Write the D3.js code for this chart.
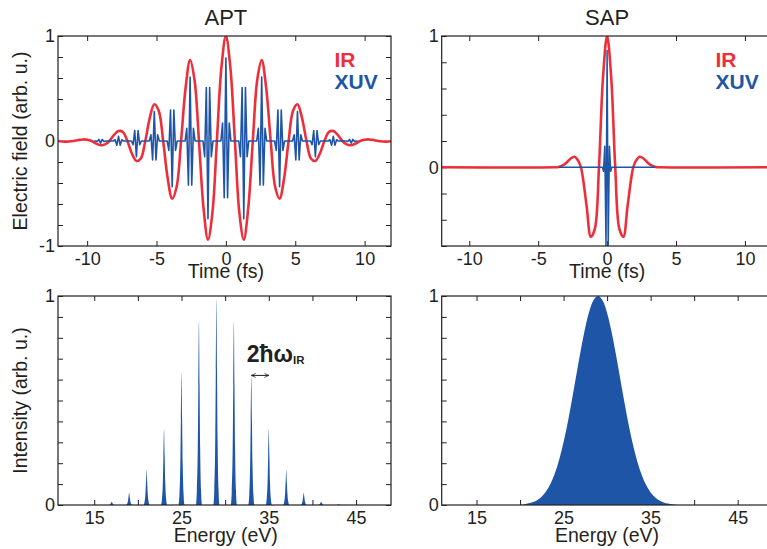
<!DOCTYPE html>
<html><head><meta charset="utf-8">
<script src="https://cdn.jsdelivr.net/npm/d3@7"></script>
<style>
html,body{margin:0;padding:0;background:#fff;}
svg{display:block;}
</style></head><body>
<svg id="chart" width="767" height="549"></svg>
<script>
// ---------------- DATA ----------------
const panelTitles = ["APT", "SAP"];
const legendLabels = ["IR", "XUV"];
const timeTicks = [-10, -5, 0, 5, 10];
const timeTickLabels = [-10, -5, 0, 5, 10];
const fieldTicksApt = [-1, -0.8, -0.6, -0.4, -0.2, 0, 0.2, 0.4, 0.6, 0.8, 1];
const fieldLabelsApt = [-1, 0, 1];
const fieldTicksSap = [-0.6, -0.4, -0.2, 0, 0.2, 0.4, 0.6, 0.8, 1];
const fieldLabelsSap = [0, 1];
const energyTicks = [15, 20, 25, 30, 35, 40, 45];
const energyTickLabels = [15, 25, 35, 45];
const intensityTicks = [0, 0.1, 0.2, 0.3, 0.4, 0.5, 0.6, 0.7, 0.8, 0.9, 1];
const intensityLabels = [0, 1];

// APT: IR field (fs, arb. u.)
const irAptTime = [-12.1, -11.61, -11.29, -10.97, -10.64, -10.32, -10.00, -9.68, -9.35, -9.03, -8.71, -8.39, -8.06, -7.74, -7.42, -7.10, -6.77, -6.45, -6.13, -5.81, -5.48, -5.16, -4.84, -4.52, -4.19, -3.87, -3.55, -3.23, -2.90, -2.58, -2.26, -1.94, -1.61, -1.29, -0.97, -0.65, -0.32, 0, 0.32, 0.65, 0.97, 1.29, 1.61, 1.94, 2.26, 2.58, 2.90, 3.23, 3.55, 3.87, 4.19, 4.52, 4.84, 5.16, 5.48, 5.81, 6.13, 6.45, 6.77, 7.10, 7.42, 7.74, 8.06, 8.39, 8.71, 9.03, 9.35, 9.68, 10.00, 10.32, 10.64, 10.97, 11.29, 11.61, 12.1];
const irAptValue = [0, -0.006, -0.005, 0, 0.009, 0.015, 0.012, 0, -0.025, -0.04, -0.032, 0, 0.058, 0.095, 0.085, 0, -0.121, -0.19, -0.167, 0, 0.223, 0.35, 0.288, 0, -0.360, -0.55, -0.436, 0, 0.511, 0.77, 0.581, 0, -0.640, -0.94, -0.682, 0, 0.704, 1, 0.704, 0, -0.682, -0.94, -0.640, 0, 0.581, 0.77, 0.511, 0, -0.436, -0.55, -0.360, 0, 0.288, 0.35, 0.223, 0, -0.167, -0.19, -0.121, 0, 0.085, 0.095, 0.058, 0, -0.032, -0.04, -0.025, 0, 0.012, 0.015, 0.009, 0, -0.005, -0.006, 0];

// APT: XUV attosecond bursts (one per IR half cycle)
const xuvAptSpan = [-9.5, 9.5];
const burstTimes = [-9.03, -7.74, -6.45, -5.16, -3.87, -2.58, -1.29, 0, 1.29, 2.58, 3.87, 5.16, 6.45, 7.74, 9.03];
const burstCenter = [-0.02, 0.045, -0.15, 0.28, -0.435, 0.61, -0.74, 0.79, -0.74, 0.61, -0.435, 0.28, -0.15, 0.045, -0.02];
const burstSide1 = [0.015, -0.04, 0.10, -0.18, 0.295, -0.42, 0.51, -0.54, 0.51, -0.42, 0.295, -0.18, 0.10, -0.04, 0.015];
const burstSide2 = [-0.005, 0.012, -0.035, 0.06, -0.09, 0.12, -0.15, 0.17, -0.15, 0.12, -0.09, 0.06, -0.035, 0.012, -0.005];
const burstOffsets = [-0.36, -0.24, -0.12, 0, 0.12, 0.24, 0.36];

// SAP: IR field
const irSapTime = [-12, -3.84, -3.54, -3.25, -2.95, -2.66, -2.36, -2.07, -1.90, -1.77, -1.48, -1.18, -0.89, -0.59, -0.30, 0, 0.30, 0.59, 0.89, 1.18, 1.48, 1.77, 1.90, 2.07, 2.36, 2.66, 2.95, 3.25, 3.54, 3.84, 12];
const irSapValue = [0, 0, 0.002, 0.012, 0.035, 0.065, 0.08, 0.045, 0, -0.07, -0.30, -0.53, -0.47, 0, 0.68, 1, 0.68, 0, -0.47, -0.53, -0.30, -0.07, 0, 0.045, 0.08, 0.065, 0.035, 0.012, 0.002, 0, 0];

// SAP: XUV single pulse
const xuvSapTime = [-3.5, -0.34, -0.26, -0.17, -0.08, 0, 0.08, 0.17, 0.26, 0.34, 3.5];
const xuvSapValue = [0, 0, -0.03, 0.16, -0.6, 0.89, -0.6, 0.16, -0.03, 0, 0];

// APT spectrum: harmonic peaks (eV, normalized intensity)
const harmonicEnergy = [17, 19, 21, 23, 25, 27, 29, 31, 33, 35, 37, 39, 41, 43];
const harmonicHeight = [0.016, 0.059, 0.167, 0.362, 0.633, 0.882, 0.985, 0.880, 0.62, 0.362, 0.167, 0.059, 0.016, 0.004];
const peakOffsets = [-0.34, -0.24, -0.14, -0.07, 0, 0.07, 0.14, 0.24, 0.34];
const peakProfile = [0, 0.08, 0.3, 0.65, 1, 0.65, 0.3, 0.08, 0];

// SAP spectrum: continuum
const sapEnergy = [20, 20.5, 21, 21.5, 22, 22.5, 23, 23.5, 24, 24.5, 25, 25.5, 26, 26.5, 27, 27.5, 28, 28.5, 29, 29.5, 30, 30.5, 31, 31.5, 32, 32.5, 33, 33.5, 34, 34.5, 35, 35.5, 36, 36.5, 37, 37.5, 38];
const sapIntensity = [0, 0.004, 0.008, 0.014, 0.024, 0.041, 0.066, 0.102, 0.152, 0.218, 0.301, 0.400, 0.512, 0.630, 0.746, 0.851, 0.933, 0.985, 1.0, 0.977, 0.919, 0.831, 0.724, 0.607, 0.489, 0.379, 0.283, 0.203, 0.141, 0.094, 0.060, 0.037, 0.022, 0.0125, 0.007, 0.003, 0];

// annotation
const spacingArrow = {from: 33, to: 35, level: 0.62};
const spacingLabel = {energy: 32.47, level: 0.686, main: "2ħω", sub: "IR"};

// ---------------- DRAW ----------------
const RED = "#ec2f3a", BLUE = "#1f55a6", INK = "#231f20";
const FONT = '"Liberation Sans", Arial, Helvetica, sans-serif';
const svg = d3.select("#chart").attr("font-family", FONT);

const xApt = d3.scaleLinear().domain([-12.1, 11.9]).range([58, 391]);
const yApt = d3.scaleLinear().domain([-1, 1]).range([246, 36]);
const xSap = d3.scaleLinear().domain([-12, 12]).range([441.7, 772.5]);
const ySap = d3.scaleLinear().domain([-0.6, 1]).range([246, 36]);
const eApt = d3.scaleLinear().domain([10.85, 49]).range([58, 391]);
const iApt = d3.scaleLinear().domain([0, 1]).range([505, 296]);
const eSap = d3.scaleLinear().domain([11, 49]).range([441.7, 772.5]);
const iSap = d3.scaleLinear().domain([0, 1]).range([505, 296]);

const defs = svg.append("defs");
function has(arr, v) { return arr.some(a => Math.abs(a - v) < 1e-9); }

function panel(id, x, y, xt, xl, yt, yl) {
  const [x0, x1] = x.range(), [y0, y1] = y.range();
  defs.append("clipPath").attr("id", id).append("rect")
    .attr("x", x0).attr("y", y1).attr("width", x1 - x0).attr("height", y0 - y1);
  const g = svg.append("g");
  g.append("g").attr("transform", `translate(0,${y0})`)
    .call(d3.axisBottom(x).tickValues(xt).tickSize(-5).tickPadding(6.5)
      .tickFormat(v => has(xl, v) ? String(v) : ""));
  g.append("g").attr("transform", `translate(0,${y1})`)
    .call(d3.axisTop(x).tickValues(xt).tickSize(-5).tickFormat(""));
  g.append("g").attr("transform", `translate(${x0},0)`)
    .call(d3.axisLeft(y).tickValues(yt).tickSize(-5).tickPadding(3)
      .tickFormat(v => has(yl, v) ? String(v) : ""));
  g.append("g").attr("transform", `translate(${x1},0)`)
    .call(d3.axisRight(y).tickValues(yt).tickSize(-5).tickFormat(""));
  g.selectAll(".domain").remove();
  g.selectAll(".tick line").attr("stroke", INK).attr("stroke-width", 1);
  g.selectAll(".tick text").attr("fill", INK).attr("font-size", 18).attr("font-family", FONT);
  const plot = svg.append("g").attr("clip-path", `url(#${id})`);
  const frameRect = () => svg.append("rect").attr("x", x0).attr("y", y1)
    .attr("width", x1 - x0).attr("height", y0 - y1)
    .attr("fill", "none").attr("stroke", INK).attr("stroke-width", 1.2);
  return {plot, frameRect};
}

function zip(a, b) { return a.map((v, i) => [v, b[i]]); }

// ---- Top-left: APT time domain
{
  const p = panel("c1", xApt, yApt, timeTicks, timeTickLabels, fieldTicksApt, fieldLabelsApt);
  const line = d3.line().x(d => xApt(d[0])).y(d => yApt(d[1]));
  p.plot.append("path").datum(zip(irAptTime, irAptValue))
    .attr("d", line.curve(d3.curveCatmullRom.alpha(0.5)))
    .attr("fill", "none").attr("stroke", RED).attr("stroke-width", 2.6);
  const pts = [[xuvAptSpan[0], 0]];
  burstTimes.forEach((t, i) => {
    const vals = [0, burstSide2[i], burstSide1[i], burstCenter[i], burstSide1[i], burstSide2[i], 0];
    burstOffsets.forEach((o, j) => pts.push([t + o, vals[j]]));
  });
  pts.push([xuvAptSpan[1], 0]);
  p.plot.append("path").datum(pts)
    .attr("d", d3.line().x(d => xApt(d[0])).y(d => yApt(d[1])))
    .attr("fill", "none").attr("stroke", BLUE).attr("stroke-width", 1.6)
    .attr("stroke-linejoin", "round");
  p.frameRect();
}

// ---- Top-right: SAP time domain
{
  const p = panel("c2", xSap, ySap, timeTicks, timeTickLabels, fieldTicksSap, fieldLabelsSap);
  p.plot.append("path").datum(zip(irSapTime, irSapValue))
    .attr("d", d3.line().x(d => xSap(d[0])).y(d => ySap(d[1])).curve(d3.curveCatmullRom.alpha(0.5)))
    .attr("fill", "none").attr("stroke", RED).attr("stroke-width", 2.6);
  p.plot.append("path").datum(zip(xuvSapTime, xuvSapValue))
    .attr("d", d3.line().x(d => xSap(d[0])).y(d => ySap(d[1])))
    .attr("fill", "none").attr("stroke", BLUE).attr("stroke-width", 1.5)
    .attr("stroke-linejoin", "round");
  p.frameRect();
}

// ---- Bottom-left: APT spectrum
{
  const p = panel("c3", eApt, iApt, energyTicks, energyTickLabels, intensityTicks, intensityLabels);
  const area = d3.area().x(d => eApt(d[0])).y0(iApt(0)).y1(d => iApt(d[1])).curve(d3.curveMonotoneX);
  harmonicEnergy.forEach((e, i) => {
    const pk = peakOffsets.map((o, j) => [e + o, harmonicHeight[i] * peakProfile[j]]);
    p.plot.append("path").datum(pk).attr("d", area).attr("fill", BLUE);
  });
  p.frameRect();
  // annotation
  defs.append("marker").attr("id", "ah").attr("viewBox", "0 0 8 8")
    .attr("refX", 7.5).attr("refY", 4).attr("markerWidth", 5).attr("markerHeight", 5)
    .attr("markerUnits", "userSpaceOnUse").attr("orient", "auto-start-reverse")
    .append("path").attr("d", "M0.5,0.8 L7.5,4 L0.5,7.2").attr("fill", "none")
    .attr("stroke", INK).attr("stroke-width", 1.2);
  svg.append("line")
    .attr("x1", eApt(spacingArrow.from)).attr("x2", eApt(spacingArrow.to))
    .attr("y1", iApt(spacingArrow.level)).attr("y2", iApt(spacingArrow.level))
    .attr("stroke", INK).attr("stroke-width", 1)
    .attr("marker-start", "url(#ah)").attr("marker-end", "url(#ah)");
  const t = svg.append("text").attr("x", eApt(spacingLabel.energy)).attr("y", iApt(spacingLabel.level))
    .attr("fill", INK).attr("font-weight", "bold").attr("font-size", 23).text(spacingLabel.main);
  t.append("tspan").attr("font-size", 11.5).attr("dy", 2.5).text(spacingLabel.sub);
}

// ---- Bottom-right: SAP spectrum
{
  const p = panel("c4", eSap, iSap, energyTicks, energyTickLabels, intensityTicks, intensityLabels);
  p.plot.append("path").datum(zip(sapEnergy, sapIntensity))
    .attr("d", d3.area().x(d => eSap(d[0])).y0(iSap(0)).y1(d => iSap(d[1])).curve(d3.curveCatmullRom.alpha(0.5)))
    .attr("fill", BLUE);
  p.frameRect();
}

// ---- Titles, axis titles, legends
const titleX = [xApt(0), xSap(0)];
panelTitles.forEach((s, i) => svg.append("text").attr("x", titleX[i]).attr("y", 25)
  .attr("text-anchor", "middle").attr("font-size", 22).attr("fill", INK).text(s));

[[xApt(0), 277.5, "Time (fs)"], [xSap(0), 277.5, "Time (fs)"],
 [225.8, 542, "Energy (eV)"], [607, 542, "Energy (eV)"]].forEach(([x, y, s]) =>
  svg.append("text").attr("x", x).attr("y", y).attr("text-anchor", "middle")
    .attr("font-size", 19.5).attr("fill", INK).text(s));

[[141, "Electric field (arb. u.)"], [400.5, "Intensity (arb. u.)"]].forEach(([cy, s]) =>
  svg.append("text").attr("transform", `translate(27,${cy}) rotate(-90)`)
    .attr("text-anchor", "middle").attr("font-size", 19.5).attr("fill", INK).text(s));

const legendX = [334.5, 715.5];
const legendColors = [RED, BLUE];
legendX.forEach(lx => legendLabels.forEach((s, j) =>
  svg.append("text").attr("x", lx).attr("y", 67 + j * 21.5)
    .attr("font-size", 21).attr("font-weight", "bold").attr("fill", legendColors[j]).text(s)));
</script>
</body></html>
